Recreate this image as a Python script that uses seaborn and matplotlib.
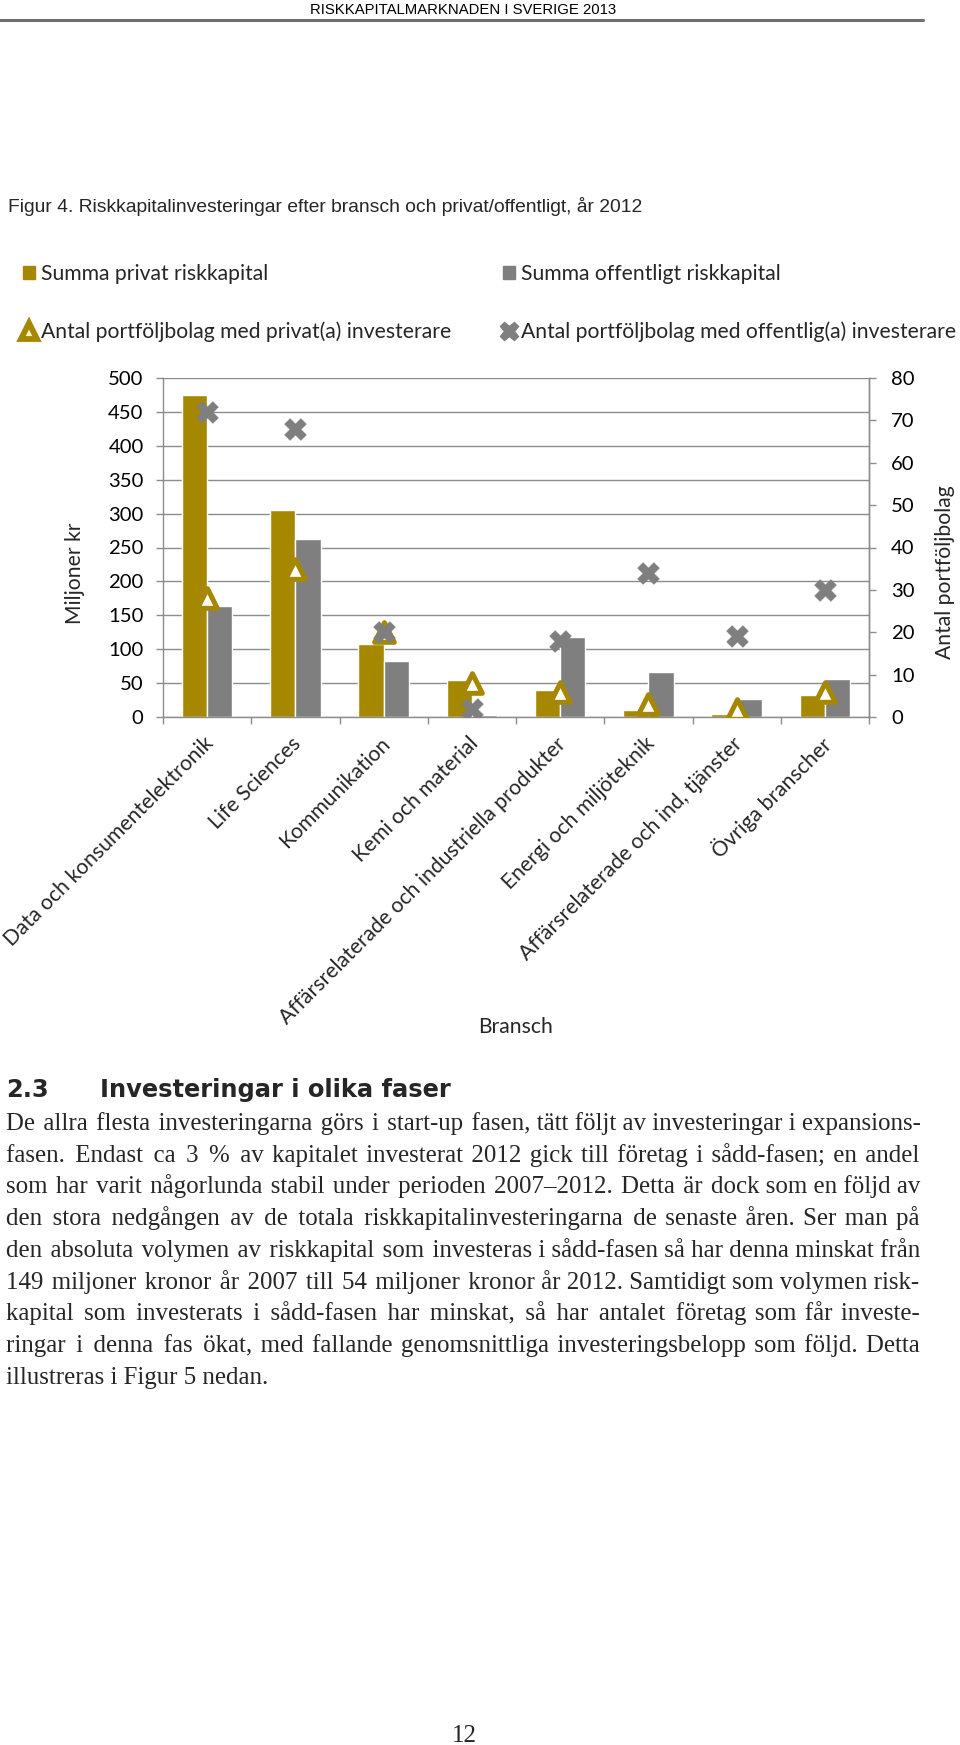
import numpy as np
import pandas as pd
import matplotlib
matplotlib.use("Agg")
import matplotlib.pyplot as plt
import matplotlib.transforms as mtransforms
from matplotlib.lines import Line2D
from matplotlib.patches import Patch
from matplotlib import font_manager as fm
import seaborn as sns

# ---------------- data ----------------
categories = ["Data och konsumentelektronik", "Life Sciences", "Kommunikation",
              "Kemi och material", "Affärsrelaterade och industriella produkter",
              "Energi och miljöteknik", "Affärsrelaterade och ind, tjänster",
              "Övriga branscher"]
privat_kapital = [475, 305, 108, 55, 40, 10, 4, 32]
offentligt_kapital = [164, 263, 83, 3, 118, 67, 26, 56]
antal_privat = [28, 35, 20, 8, 6, 3, 2, 6]
antal_offentlig = [72, 68, 20, 2, 18, 34, 19, 30]
left_ticks = [0, 50, 100, 150, 200, 250, 300, 350, 400, 450, 500]
right_ticks = [0, 10, 20, 30, 40, 50, 60, 70, 80]
series_names = ["Summa privat riskkapital", "Summa offentligt riskkapital",
                "Antal portföljbolag med privat(a) investerare",
                "Antal portföljbolag med offentlig(a) investerare"]

header_text = "RISKKAPITALMARKNADEN I SVERIGE 2013"
title_text = "Figur 4. Riskkapitalinvesteringar efter bransch och privat/offentligt, år 2012"
heading_num = "2.3"
heading_text = "Investeringar i olika faser"
body_lines = [
    "De allra flesta investeringarna görs i start-up fasen, tätt följt av investeringar i expansions-",
    "fasen. Endast ca 3 % av kapitalet investerat 2012 gick till företag i sådd-fasen; en andel",
    "som har varit någorlunda stabil under perioden 2007–2012. Detta är dock som en följd av",
    "den stora nedgången av de totala riskkapitalinvesteringarna de senaste åren. Ser man på",
    "den absoluta volymen av riskkapital som investeras i sådd-fasen så har denna minskat från",
    "149 miljoner kronor år 2007 till 54 miljoner kronor år 2012. Samtidigt som volymen risk-",
    "kapital som investerats i sådd-fasen har minskat, så har antalet företag som får investe-",
    "ringar i denna fas ökat, med fallande genomsnittliga investeringsbelopp som följd. Detta",
    "illustreras i Figur 5 nedan.",
]
page_number = "12"

# ---------------- style ----------------
GOLD = "#A68800"
GREY = "#7F7F7F"
GRID = "#8C8C8C"

def has_font(name):
    try:
        fm.findfont(fm.FontProperties(family=name), fallback_to_default=False)
        return True
    except Exception:
        return False

NARROW_OK = has_font("Liberation Sans Narrow")
NARROW = "Liberation Sans Narrow" if NARROW_OK else "Liberation Sans"
CHART = "Lato"
SERIF = ["Liberation Serif", "DejaVu Serif"]

sns.set_theme(style="white")
plt.rcParams["font.family"] = [CHART, "DejaVu Sans"]

W, H = 960, 1745
fig = plt.figure(figsize=(W / 100, H / 100), dpi=100)

def fx(px):
    return px / W

def fy(py):
    return 1 - py / H

# header
fig.text(fx(463), fy(10), header_text, family=NARROW,
         fontsize=12.0 if NARROW_OK else 10.75, ha="center", va="center", color="black")
fig.add_artist(Line2D([0, fx(923)], [fy(20), fy(20)], transform=fig.transFigure,
                      color="#6E6E6E", lw=2.2))

# figure title
fig.text(fx(8), fy(207), title_text, family=NARROW,
         fontsize=15.7 if NARROW_OK else 13.85, ha="left", va="center")

# ---------------- chart ----------------
ax = fig.add_axes([fx(163), fy(717), fx(869) - fx(163), (717 - 378) / H])

df = pd.DataFrame({
    "Bransch": categories * 2,
    "Serie": [series_names[0]] * len(categories) + [series_names[1]] * len(categories),
    "Värde": privat_kapital + offentligt_kapital,
})
sns.barplot(data=df, x="Bransch", y="Värde", hue="Serie", order=categories,
            hue_order=series_names[:2], palette=[GOLD, GREY], width=0.57, gap=0,
            saturation=1, legend=False, ax=ax, zorder=2)

ax.set_ylim(0, 500)
ax.set_yticks(left_ticks)
ax.set_xlim(-0.5, len(categories) - 0.5)
ax.yaxis.grid(True, color=GRID, lw=1.0, zorder=0)
ax.xaxis.grid(False)
ax.set_axisbelow(True)
ax.spines["top"].set_visible(False)
for s in ["left", "bottom", "right"]:
    ax.spines[s].set_color(GRID)
    ax.spines[s].set_linewidth(1.0)

ax2 = ax.twinx()
sns.scatterplot(x=categories, y=antal_privat, marker="^", s=200, color="white",
                edgecolor=GOLD, linewidth=3.6, ax=ax2, zorder=3, legend=False)
sns.scatterplot(x=categories, y=antal_offentlig, marker="X", s=240, color=GREY,
                edgecolor=GREY, linewidth=0.5, ax=ax2, zorder=4, legend=False)
ax2.set_ylim(0, 80)
ax2.set_yticks(right_ticks)
ax2.set_xlim(-0.5, len(categories) - 0.5)
for s in ["top", "left", "bottom"]:
    ax2.spines[s].set_visible(False)
ax2.spines["right"].set_color(GRID)
ax2.spines["right"].set_linewidth(1.0)
ax2.grid(False)
ax2.set_xlabel("")

TICKFS = 14.6
LABFS = 15.2
ax.tick_params(axis="y", which="major", direction="out", length=5, width=1.0,
               color=GRID, pad=9, labelsize=TICKFS, labelcolor="black", left=True)
ax2.tick_params(axis="y", which="major", direction="out", length=5, width=1.0,
                color=GRID, pad=11, labelsize=TICKFS, labelcolor="black", right=True)

pos = np.arange(len(categories))
ax.set_xticks(pos)
ax.set_xticks(np.append(pos - 0.5, pos[-1] + 0.5), minor=True)
ax.set_xticklabels(categories, rotation=45, ha="right", va="center",
                   rotation_mode="anchor", fontsize=LABFS)
ax.tick_params(axis="x", which="major", length=0, pad=17)
ax.tick_params(axis="x", which="minor", direction="out", length=5, width=1.0,
               color=GRID, bottom=True)
shift = mtransforms.ScaledTranslation(3 / 100, 0, fig.dpi_scale_trans)
for lbl in ax.get_xticklabels():
    lbl.set_transform(lbl.get_transform() + shift)

ax.set_xlabel("")
ax.set_ylabel("")
ax2.set_ylabel("")
fig.text(fx(75), fy(573), "Miljoner kr", rotation=90, ha="center", va="center",
         fontsize=LABFS)
fig.text(fx(945), fy(572), "Antal portföljbolag", rotation=90, ha="center",
         va="center", fontsize=LABFS)
fig.text(fx(516), fy(1027), "Bransch", ha="center", va="center", fontsize=LABFS)

# legend
handles = [
    Patch(facecolor=GOLD, edgecolor=GOLD),
    Line2D([], [], marker="^", linestyle="none", markersize=11, markerfacecolor="#FFF6C8",
           markeredgecolor=GOLD, markeredgewidth=4.2),
    Patch(facecolor=GREY, edgecolor=GREY),
    Line2D([], [], marker="X", linestyle="none", markersize=13, markerfacecolor=GREY,
           markeredgecolor=GREY),
]
labels = [series_names[0], series_names[2], series_names[1], series_names[3]]
fig.legend(handles, labels, loc="upper left", bbox_to_anchor=(fx(23), fy(264)),
           ncol=2, frameon=False, fontsize=LABFS, handlelength=0.55, handleheight=0.55,
           handletextpad=0.3, columnspacing=2.45, labelspacing=1.76, borderpad=0,
           borderaxespad=0)

# ---------------- text below ----------------
fig.text(fx(6), fy(1090), heading_num, family="DejaVu Sans", weight="bold",
         fontsize=17.4, ha="left", va="center")
fig.text(fx(100), fy(1090), heading_text, family="DejaVu Sans", weight="bold",
         fontsize=17.4, ha="left", va="center")

renderer = fig.canvas.get_renderer()
X0, X1 = 6, 920

def measure(s, size):
    t = fig.text(0, 0, s, family=SERIF, fontsize=size)
    w = t.get_window_extent(renderer).width
    t.remove()
    return w

# choose the body size so the longest line just fits the column
base = 16.0
widest = max(measure(l, base) for l in body_lines)
BODYFS = base * (X1 - X0) * 0.985 / widest

HAIR = "\u200a"
hair_w = measure("a" + HAIR * 10 + "a", BODYFS) - measure("aa", BODYFS)
hair_w = hair_w / 10.0

line_y0, line_dy = 1130, 31.7   # baselines
for i, line in enumerate(body_lines):
    y = line_y0 + i * line_dy
    words = line.split(" ")
    last = i == len(body_lines) - 1
    text = line
    if not last and len(words) > 1 and hair_w > 0.2:
        extra = (X1 - X0) - measure(line, BODYFS)
        n_gaps = len(words) - 1
        total = max(0, int(round(extra / hair_w)))
        per, rem = divmod(total, n_gaps)
        pieces = [words[0]]
        for g in range(n_gaps):
            k = per + (1 if g < rem else 0)
            pieces.append(" " + HAIR * k + words[g + 1])
        text = "".join(pieces)
    fig.text(fx(X0), fy(y), text, family=SERIF, fontsize=BODYFS, ha="left",
             va="baseline")

fig.text(fx(464), fy(1736), page_number, family=SERIF, fontsize=18, ha="center",
         va="center")

fig.savefig("out.png", dpi=100)
